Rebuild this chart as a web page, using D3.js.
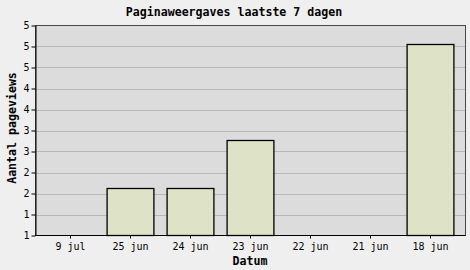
<!DOCTYPE html>
<html>
  <head>
    <script src="https://d3js.org/d3.v7.min.js"></script>
    <style>
      body { margin: 0; background: #efefef; }
    </style>
  </head>
  <body>
    <svg id="chart" width="470" height="270"></svg>
    <script>
      // data
      const dates = ["9 jul", "25 jun", "24 jun", "23 jun", "22 jun", "21 jun", "18 jun"];
      const pageviews = [0, 2, 2, 3, 0, 0, 5];
      const yTickLabels = ["1", "1", "2", "2", "3", "3", "4", "4", "5", "5", "5"];
      const yMin = 1, yMax = 5.375;

      const svg = d3.select("#chart");
      const mono = "DejaVu Sans Mono, monospace";

      // plot frame
      const pLeft = 35.5, pRight = 465.5, pTop = 25.5, pBottom = 235.5;

      var x = d3.scaleBand().domain(dates).range([40.5, 460.5]).paddingInner(0.22).paddingOuter(0.11);
      var y = d3.scaleLinear().domain([yMin, yMax]).range([pBottom, pTop]).clamp(true);

      var yTicks = d3.range(yTickLabels.length).map(i => yMin + i * (yMax - yMin) / (yTickLabels.length - 1));

      svg.append("rect").attr("x", pLeft).attr("y", pTop)
        .attr("width", pRight - pLeft).attr("height", pBottom - pTop)
        .attr("fill", "#dcdcdc").attr("stroke", "#474747").attr("stroke-width", 1);

      // grid
      svg.append("g").selectAll("line").data(yTicks.slice(1, -1)).enter().append("line")
        .attr("x1", pLeft + 0.5).attr("x2", pRight - 0.5)
        .attr("y1", d => Math.round(y(d)) + 0.5).attr("y2", d => Math.round(y(d)) + 0.5)
        .attr("stroke", "#b8b8b8");

      // bars
      svg.append("g").selectAll("rect").data(dates.map((d, i) => ({ d: d, v: pageviews[i] })).filter(e => e.v > yMin))
        .enter().append("rect")
        .attr("x", e => x(e.d))
        .attr("y", e => Math.round(y(e.v)) + 0.5)
        .attr("width", x.bandwidth())
        .attr("height", e => pBottom - Math.round(y(e.v)) - 0.5)
        .attr("fill", "#dee3c8").attr("stroke", "#000").attr("stroke-width", 1.3);

      // y axis
      var yAxis = d3.axisLeft(y).tickValues(yTicks).tickSize(4).tickSizeOuter(0)
        .tickFormat((d, i) => yTickLabels[i]);
      var ya = svg.append("g").attr("transform", "translate(" + pLeft + ",0)").call(yAxis);
      ya.select(".domain").attr("stroke", "#000");
      ya.selectAll("text").attr("font-family", mono).attr("font-size", 10).attr("fill", "#000").attr("dx", "1");

      // x axis
      var xAxis = d3.axisBottom(x).tickSize(3).tickSizeOuter(0).tickPadding(4);
      var xa = svg.append("g").attr("transform", "translate(0," + pBottom + ")").call(xAxis);
      xa.select(".domain").attr("d", "M" + pLeft + ",0H" + pRight).attr("stroke", "#000");
      xa.selectAll("text").attr("font-family", mono).attr("font-size", 10).attr("fill", "#000");

      svg.append("text").attr("x", 234).attr("y", 16).attr("text-anchor", "middle")
        .attr("font-family", mono).attr("font-size", 11.6).attr("font-weight", "bold")
        .text("Paginaweergaves laatste 7 dagen");

      svg.append("text").attr("x", 250).attr("y", 265).attr("text-anchor", "middle")
        .attr("font-family", mono).attr("font-size", 11.6).attr("font-weight", "bold")
        .text("Datum");

      svg.append("text").attr("transform", "translate(16,128) rotate(-90)").attr("text-anchor", "middle")
        .attr("font-family", mono).attr("font-size", 11.6).attr("font-weight", "bold")
        .text("Aantal pageviews");
    </script>
  </body>
</html>
